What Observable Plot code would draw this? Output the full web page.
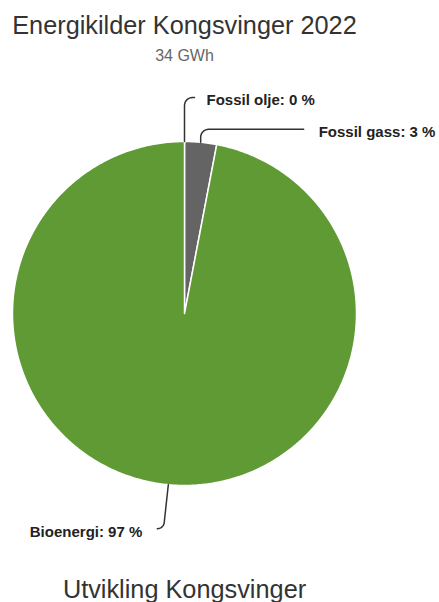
<!DOCTYPE html>
<html>
<head>
<meta charset="utf-8">
<script src="https://cdn.jsdelivr.net/npm/d3@7"></script>
<script src="https://cdn.jsdelivr.net/npm/@observablehq/plot@0.6"></script>
<style>
  body { margin: 0; background: #fff; }
  #wrap { position: relative; width: 439px; height: 602px; overflow: hidden; font-family: "Liberation Sans", Arial, sans-serif; background: #fff; }
  .ttl { position: absolute; left: 0; width: 369px; text-align: center; white-space: nowrap; }
  #title { top: 13px; font-size: 25.3px; line-height: 25px; color: #333333; }
  #subtitle { top: 47.5px; font-size: 16px; line-height: 16px; color: #666666; }
  #next { top: 577px; font-size: 25.3px; line-height: 25px; color: #333333; }
  #chart { position: absolute; left: 0; top: 70px; }
</style>
</head>
<body>
<div id="wrap">
  <div id="title" class="ttl">Energikilder Kongsvinger 2022</div>
  <div id="subtitle" class="ttl">34 GWh</div>
  <div id="chart"></div>
  <div id="next" class="ttl">Utvikling Kongsvinger</div>
</div>
<script>
// ---- data ----
const categories = ["Fossil olje", "Fossil gass", "Bioenergi"];
const values = [0, 3, 97];
const palette = ["#3a3a3a", "#646464", "#5f9a35"];

// ---- layout (annotation geometry, in pie units where radius = 172) ----
const R = 172;
const labelLayout = {
  "Fossil olje": {dx: 10, dy: 44, lean: 0, r: 8, gap: 12, anchor: "start"},
  "Fossil gass": {dx: 103, dy: 13, lean: 0, r: 8, gap: 15, anchor: "start"},
  "Bioenergi":   {dx: -11, dy: -44, lean: -4, r: 7, gap: 15, anchor: "end"}
};

const table = categories.map((c, i) => ({category: c, value: values[i]}));
const arcs = d3.pie().sort(null).value(d => d.value).startAngle(0).endAngle(2 * Math.PI)(table);

// slice polygons (angles clockwise from 12 o'clock)
const slicePts = [];
for (const a of arcs) {
  const c = a.data.category;
  slicePts.push({category: c, x: 0, y: 0});
  const n = Math.max(2, Math.ceil((a.endAngle - a.startAngle) / 0.01));
  for (let k = 0; k <= n; k++) {
    const t = a.startAngle + (a.endAngle - a.startAngle) * k / n;
    slicePts.push({category: c, x: R * Math.sin(t), y: R * Math.cos(t)});
  }
}

// connectors + labels
const connPts = [];
const labels = [];
for (const a of arcs) {
  const c = a.data.category;
  const L = labelLayout[c];
  const mid = (a.startAngle + a.endAngle) / 2;
  const s = {x: R * Math.sin(mid), y: R * Math.cos(mid)};
  const e = {x: s.x + L.dx, y: s.y + L.dy};
  const sx = Math.sign(L.dx), sy = Math.sign(L.dy);
  const bx = s.x + L.lean;
  const r = Math.min(L.r, Math.abs(e.x - bx), Math.abs(L.dy));
  connPts.push({category: c, x: s.x, y: s.y});
  connPts.push({category: c, x: bx, y: e.y - sy * r});
  for (let k = 1; k <= 8; k++) {
    const t = (Math.PI / 2) * k / 8;
    connPts.push({category: c, x: bx + sx * r * (1 - Math.cos(t)), y: e.y - sy * r * (1 - Math.sin(t))});
  }
  connPts.push({category: c, x: e.x, y: e.y});
  labels.push({
    x: e.x + (L.anchor === "start" ? L.gap : -L.gap),
    y: e.y - 3,
    text: `${c}: ${Math.round(a.data.value / d3.sum(values) * 100)} %`,
    anchor: L.anchor
  });
}

const pieCx = 184, pieCyAbs = 313, svgTop = 70;
const pieCy = pieCyAbs - svgTop;

const plot = Plot.plot({
  width: 439,
  height: 495,
  margin: 0,
  style: {background: "transparent", overflow: "visible"},
  x: {domain: [-R, R], range: [pieCx - R, pieCx + R], axis: null},
  y: {domain: [-R, R], range: [pieCy + R, pieCy - R], axis: null},
  color: {domain: categories, range: palette},
  marks: [
    Plot.line(slicePts, {x: "x", y: "y", z: "category", fill: "category", stroke: "#ffffff", strokeWidth: 1.5, curve: "linear-closed", strokeLinejoin: "round"}),
    Plot.line(connPts, {x: "x", y: "y", z: "category", stroke: "#333333", strokeWidth: 1.5, fill: "none"}),
    Plot.text(labels.filter(d => d.anchor === "start"), {x: "x", y: "y", text: "text", textAnchor: "start", fontSize: 15, fontWeight: "bold", fill: "#222222", fontFamily: "Liberation Sans, Arial, sans-serif"}),
    Plot.text(labels.filter(d => d.anchor === "end"), {x: "x", y: "y", text: "text", textAnchor: "end", fontSize: 15, fontWeight: "bold", fill: "#222222", fontFamily: "Liberation Sans, Arial, sans-serif"})
  ]
});
document.getElementById("chart").appendChild(plot);
</script>
</body>
</html>
